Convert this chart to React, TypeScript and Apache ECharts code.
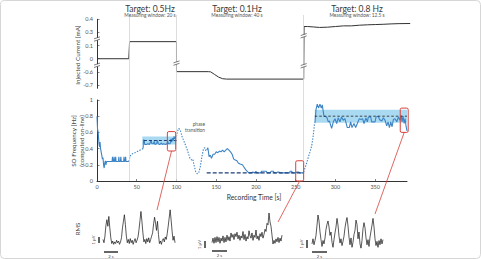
import React, { useEffect, useRef } from "react";
import * as echarts from "echarts";

const FONT = "Lato, 'Open Sans', sans-serif";

// Stimulation current (mA) over recording time (s)
const CURRENT_T = [0, 40, 41, 100, 100, 140, 143, 148, 153, 158, 163, 260, 260.5, 265, 272, 280, 290, 300, 310, 320, 330, 340, 350, 360, 370, 380, 394];
const CURRENT_MA = [0, 0, 0.16, 0.16, -0.59, -0.59, -0.6, -0.62, -0.64, -0.652, -0.655, -0.655, 0.345, 0.345, 0.342, 0.338, 0.34, 0.345, 0.35, 0.35, 0.355, 0.358, 0.36, 0.362, 0.365, 0.367, 0.368];
// Tick values of the broken current axis, bottom to top; each step gets the same height
const CURRENT_TICKS = [-0.7, -0.6, 0, 0.1, 0.3, 0.4];
// Cuts drawn across the axis and the current trace: [time s, current mA]
const CURRENT_BREAKS = [[0, 0.2], [0, -0.3], [100, -0.2], [260, -0.32], [260, 0.25]];

// On-line SO frequency estimate (Hz): [time s, Hz]
const SO_BASELINE = [[0, 0.8], [0.7, 0.64], [1.5, 0.6], [2.5, 0.46], [3.2, 0.42], [3.8, 0.48], [4.5, 0.4], [5.2, 0.36], [6, 0.32], [6.8, 0.27], [7.5, 0.29], [8.3, 0.2], [9, 0.16], [9.8, 0.22], [10.5, 0.25], [11.2, 0.2], [12, 0.24], [19, 0.24], [19.5, 0.3], [20, 0.24], [21, 0.24], [21.5, 0.3], [22, 0.24], [23, 0.24], [23.5, 0.3], [24, 0.24], [27, 0.24], [27.5, 0.3], [28, 0.24], [29.5, 0.24], [30, 0.3], [30.5, 0.24], [33.5, 0.24], [34, 0.3], [34.5, 0.24], [35.5, 0.24], [36, 0.3], [36.5, 0.24], [40, 0.24]];
const SO_TO_05 = [[40, 0.24], [41.5, 0.3], [43, 0.33], [46, 0.34], [50, 0.36], [54, 0.38], [58, 0.4]];
const SO_AT_05 = [[58, 0.4], [58.5, 0.51], [59.5, 0.5], [60, 0.45], [62, 0.45], [64, 0.46], [66, 0.45], [68, 0.5], [69, 0.46], [71, 0.46], [72, 0.49], [73, 0.45], [75, 0.46], [76, 0.5], [77, 0.46], [79, 0.45], [81, 0.47], [82, 0.45], [84, 0.46], [86, 0.45], [88, 0.46], [89, 0.49], [90, 0.46], [92, 0.46], [93, 0.52], [94, 0.48], [95, 0.53], [96, 0.5], [97, 0.55], [98, 0.52], [99, 0.54], [100, 0.55]];
const SO_TO_01 = [[100, 0.55], [101.5, 0.62], [103, 0.65], [105, 0.62], [107, 0.55], [109, 0.5], [111, 0.45], [113, 0.4], [115, 0.34], [117, 0.28], [119, 0.26], [120.5, 0.27], [122, 0.2], [124, 0.12], [126, 0.09], [128, 0.1], [130, 0.18], [132, 0.3], [134, 0.4], [135.5, 0.41], [137, 0.37], [138.5, 0.39]];
const SO_AT_01 = [[138.5, 0.39], [139.5, 0.41], [141, 0.3], [142.5, 0.32], [144, 0.28], [146, 0.33], [148, 0.33], [150, 0.36], [152, 0.35], [154, 0.37], [156, 0.36], [158, 0.38], [160, 0.36], [162, 0.38], [164, 0.4], [166, 0.38], [168, 0.36], [170, 0.33], [172, 0.27], [174, 0.26], [176, 0.25], [178, 0.22], [180, 0.21], [183, 0.2], [185, 0.17], [187, 0.14], [189, 0.12], [191, 0.1], [194, 0.1], [196, 0.11], [198, 0.1], [200, 0.12], [201, 0.1], [206, 0.1], [207, 0.12], [213, 0.12], [214, 0.1], [218, 0.1], [219, 0.12], [222, 0.12], [223, 0.1], [226, 0.1], [227, 0.11], [229, 0.11], [230, 0.1], [242, 0.1], [243, 0.12], [245, 0.12], [246, 0.1], [250, 0.1], [251, 0.11], [254, 0.11], [255, 0.1], [260, 0.1]];
const SO_TO_08 = [[260, 0.11], [262, 0.17], [264, 0.23], [266, 0.3], [268, 0.36], [270, 0.43], [271.5, 0.52], [272.5, 0.6], [273.5, 0.7], [274.2, 0.72]];
const SO_AT_08 = [[274.2, 0.72], [275.5, 0.88], [277.1, 0.95], [278.8, 0.9], [280.5, 0.95], [282.2, 0.9], [283.4, 0.94], [285.5, 0.8], [289, 0.79], [291, 0.73], [292.4, 0.74], [295.2, 0.65], [297.3, 0.73], [299.4, 0.77], [301.5, 0.71], [303.5, 0.78], [305.6, 0.73], [307.7, 0.79], [309.8, 0.75], [311.9, 0.77], [314.9, 0.66], [317.4, 0.66], [319.1, 0.73], [320.8, 0.66], [323.3, 0.71], [325.4, 0.66], [327.9, 0.72], [330, 0.77], [332.1, 0.76], [334.2, 0.77], [335.9, 0.71], [338.4, 0.78], [340.1, 0.73], [341.4, 0.79], [344.3, 0.79], [345.6, 0.73], [349.8, 0.73], [351, 0.79], [354, 0.8], [355.3, 0.76], [358.2, 0.74], [360.3, 0.78], [362.4, 0.75], [364.5, 0.68], [366.2, 0.73], [367.9, 0.66], [369.5, 0.73], [371.2, 0.67], [372.9, 0.76], [375, 0.77], [377.1, 0.73], [379.2, 0.79], [381.3, 0.75], [382.6, 0.81], [383.8, 0.73], [385.1, 0.8], [386.4, 0.71], [387.6, 0.77], [388.9, 0.67], [390, 0.62]];

// Target frequencies (Hz), the span each is drawn over (s) and its tolerance band (Hz)
const TARGET_HZ = [0.5, 0.1, 0.8];
const TARGET_SPAN = [[59, 100], [138, 260], [274, 390]];
const TARGET_BAND = [[0.45, 0.55], null, [0.72, 0.88]];
const TARGET_TITLE = ["Target: 0.5Hz", "Target: 0.1Hz", "Target: 0.8 Hz"];
const TARGET_WINDOW = ["Measuring window: 20 s", "Measuring window: 40 s", "Measuring window: 12.5 s"];

// Phase boundaries (s)
const PHASE_EDGES = [40, 100, 260];
const TIME_TICKS = [0, 50, 100, 150, 200, 250, 300, 350];

// Stretches whose RMS is shown below: [t0, t1, Hz low, Hz high]
const RMS_WINDOWS = [[88.5, 99, 0.37, 0.61], [250, 260, 0, 0.25], [381.5, 391.5, 0.6, 0.9]];

// RMS traces (µV) of the three stretches
const RMS_05 = [0.8, 0.4, 1.2, 2.5, 3.2, 2.4, 3.6, 2.2, 1.0, 0.3, 0.6, 0.2, 0.5, 0.3, 0.7, 0.4, 0.6, 0.2, 0.5, 1.0, 2.2, 3.0, 3.8, 2.6, 1.2, 0.4, 0.8, 0.3, 0.9, 0.4, 0.7, 0.2, 0.6, 0.9, 0.4, 0.7, 1.1, 2.0, 3.1, 4.2, 3.0, 1.6, 0.5, 0.8, 0.3, 0.9, 0.5, 1.0, 0.4, 0.8, 1.2, 1.6, 2.7, 3.5, 2.8, 1.9, 3.0, 1.4, 0.3, 0.6, 0.2, 0.7, 0.9, 0.5, 1.1, 0.8, 1.5, 2.4, 3.4, 4.4, 3.2, 1.8, 0.7, 1.2, 0.4];
const RMS_01 = [0.6, 1.2, 0.5, 1.3, 0.6, 1.4, 0.7, 1.3, 0.5, 1.2, 0.8, 1.5, 0.6, 1.3, 0.7, 1.6, 0.9, 1.4, 0.8, 1.9, 1.3, 1.7, 1.0, 1.8, 1.4, 2.0, 1.1, 1.6, 0.9, 1.5, 1.2, 2.1, 1.0, 1.7, 0.8, 1.4, 1.1, 2.2, 1.5, 1.2, 1.9, 0.9, 1.6, 1.3, 2.3, 1.1, 1.5, 0.9, 1.8, 1.4, 2.0, 1.2, 1.7, 2.4, 2.1, 3.2, 3.0, 4.6, 3.4, 2.8, 1.6, 0.4, 0.9, 0.5, 1.1, 0.7, 1.3, 0.6, 1.2, 0.8, 1.6];
const RMS_08 = [0.6, 1.2, 0.5, 1.0, 1.6, 2.8, 4.0, 3.3, 2.0, 1.1, 0.3, 1.0, 0.6, 1.3, 2.3, 2.9, 3.3, 2.6, 1.6, 2.0, 0.8, 0.2, 1.1, 1.9, 2.6, 3.6, 2.8, 1.5, 0.7, 1.2, 0.4, 0.9, 1.5, 2.5, 3.2, 3.7, 2.7, 1.4, 0.5, 1.3, 0.2, 0.8, 1.7, 2.2, 3.4, 2.9, 1.2, 2.0, 0.6, 0.1, 1.0, 2.4, 3.1, 2.5, 1.3, 0.5, 1.1, 0.3, 1.4, 2.1, 2.8, 3.6, 2.6, 1.2, 0.4, 0.9, 0.2, 1.0, 0.5, 1.2, 0.6, 1.1];

// Maps a current value onto the broken axis: equal height between consecutive ticks
function toBroken(v: number): number {
  const k = CURRENT_TICKS;
  let i = 0;
  while (i < k.length - 2 && v > k[i + 1]) i++;
  return i + (v - k[i]) / (k[i + 1] - k[i]);
}

const BLUE = "#3c84c6";
const RED = "#d8403a";
const AXIS_TEXT = { color: "#555", fontSize: 5.5, fontFamily: FONT };

function breakMark(_p: any, api: any) {
  const c = api.coord([api.value(0), api.value(1)]);
  return {
    type: "group",
    children: [
      { type: "rect", shape: { x: c[0] - 3.5, y: c[1] - 1.2, width: 7, height: 2.4 }, style: { fill: "#fff" } },
      { type: "line", shape: { x1: c[0] - 3, y1: c[1] - 0.2, x2: c[0] + 3, y2: c[1] - 2.2 }, style: { stroke: "#444", lineWidth: 0.7 } },
      { type: "line", shape: { x1: c[0] - 3, y1: c[1] + 2.2, x2: c[0] + 3, y2: c[1] + 0.2 }, style: { stroke: "#444", lineWidth: 0.7 } },
    ],
  };
}

function windowBox(_p: any, api: any) {
  const a = api.coord([api.value(0), api.value(3)]);
  const b = api.coord([api.value(1), api.value(2)]);
  return {
    type: "rect",
    shape: { x: a[0], y: a[1], width: b[0] - a[0], height: b[1] - a[1], r: 1.5 },
    style: { fill: "none", stroke: RED, lineWidth: 1 },
  };
}

function soLine(data: number[][], dotted: boolean) {
  return {
    type: "line", xAxisIndex: 1, yAxisIndex: 1, data, symbol: "none", z: 4,
    lineStyle: { color: BLUE, width: 1.1, type: dotted ? [1.4, 1.4] : "solid" },
  };
}

function rmsLine(values: number[], idx: number) {
  return {
    type: "line", xAxisIndex: idx, yAxisIndex: idx, symbol: "none",
    data: values.map((v, i) => [i, v]),
    lineStyle: { color: "#111", width: 0.7 },
  };
}

function hiddenAxis(gridIndex: number, min: number, max: number) {
  return { type: "value", gridIndex, min, max, show: false };
}

const TARGET_STYLE = [
  { color: "#1d3f78", width: 1, type: [3, 2] },
  { color: "#1d3f78", width: 1.4, type: [4, 2] },
  { color: "#222", width: 0.8, type: [2.5, 2] },
];

const option: any = {
  animation: false,
  backgroundColor: "#fff",
  grid: [
    { left: 97, top: 19.3, width: 313.2, height: 69 },
    { left: 97, top: 100, width: 310, height: 81 },
    { left: 97, top: 15, width: 310, height: 166 },
    { left: 103, top: 209, width: 72, height: 37 },
    { left: 212, top: 213, width: 70, height: 34 },
    { left: 312, top: 215, width: 71, height: 34 },
  ],
  xAxis: [
    hiddenAxis(0, 0, 394),
    {
      type: "value", gridIndex: 1, min: 0, max: 390,
      axisLine: { lineStyle: { color: "#333", width: 1 } },
      axisTick: { inside: true, length: 2, customValues: TIME_TICKS, lineStyle: { color: "#333", width: 0.6 } },
      axisLabel: { ...AXIS_TEXT, margin: 3, customValues: TIME_TICKS },
      splitLine: { show: false },
    },
    hiddenAxis(2, 0, 390),
    hiddenAxis(3, 0, RMS_05.length - 1),
    hiddenAxis(4, 0, RMS_01.length - 1),
    hiddenAxis(5, 0, RMS_08.length - 1),
  ],
  yAxis: [
    {
      type: "value", gridIndex: 0, min: -0.25, max: 5,
      axisLine: { show: true, lineStyle: { color: "#333", width: 1 } },
      axisTick: { show: true, inside: true, length: 2.5, customValues: [0, 1, 2, 3, 4, 5], lineStyle: { color: "#333", width: 0.6 } },
      axisLabel: { ...AXIS_TEXT, margin: 4, customValues: [0, 1, 2, 3, 4, 5], formatter: (v: number) => String(CURRENT_TICKS[Math.round(v)]) },
      splitLine: { show: false },
    },
    {
      type: "value", gridIndex: 1, min: 0, max: 1, interval: 0.2,
      axisLine: { show: true, lineStyle: { color: "#333", width: 1 } },
      axisTick: { show: true, inside: true, length: 2.5, lineStyle: { color: "#333", width: 0.6 } },
      axisLabel: { ...AXIS_TEXT, margin: 4, formatter: (v: number) => String(Math.round(v * 10) / 10) },
      splitLine: { show: false },
    },
    hiddenAxis(2, 0, 1),
    hiddenAxis(3, 0, 4.5),
    hiddenAxis(4, 0, 4.6),
    hiddenAxis(5, 0, 4.0),
  ],
  series: [
    {
      type: "line", xAxisIndex: 2, yAxisIndex: 2, data: [[0, 0]], symbol: "none", z: 0,
      lineStyle: { opacity: 0 },
      markLine: {
        silent: true, symbol: "none", label: { show: false },
        lineStyle: { color: "#d4d4d4", width: 0.8, type: "solid" },
        data: PHASE_EDGES.map((t) => ({ xAxis: t })),
      },
    },
    {
      type: "line", xAxisIndex: 0, yAxisIndex: 0, symbol: "none", z: 3,
      data: CURRENT_T.map((t, i) => [t, toBroken(CURRENT_MA[i])]),
      lineStyle: { color: "#333", width: 1 },
    },
    {
      type: "custom", xAxisIndex: 0, yAxisIndex: 0, clip: false, z: 5,
      renderItem: breakMark,
      data: CURRENT_BREAKS.map((b) => [b[0], toBroken(b[1])]),
    },
    {
      type: "line", xAxisIndex: 1, yAxisIndex: 1, data: [], symbol: "none", z: 1,
      markArea: {
        silent: true,
        itemStyle: { color: "rgba(140, 206, 236, 0.75)" },
        data: TARGET_BAND.map((b, i) => (b ? [{ xAxis: TARGET_SPAN[i][0] - (i === 0 ? 2 : 0), yAxis: b[0] }, { xAxis: TARGET_SPAN[i][1], yAxis: b[1] }] : null)).filter(Boolean),
      },
    },
    soLine(SO_BASELINE, false),
    soLine(SO_TO_05, true),
    soLine(SO_AT_05, false),
    soLine(SO_TO_01, true),
    soLine(SO_AT_01, false),
    soLine(SO_TO_08, true),
    soLine(SO_AT_08, false),
    ...TARGET_HZ.map((hz, i) => ({
      type: "line", xAxisIndex: 1, yAxisIndex: 1, symbol: "none", z: 5,
      data: [[TARGET_SPAN[i][0], hz], [TARGET_SPAN[i][1], hz]],
      lineStyle: TARGET_STYLE[i],
    })),
    {
      type: "custom", xAxisIndex: 1, yAxisIndex: 1, clip: false, z: 6,
      renderItem: windowBox,
      data: RMS_WINDOWS,
    },
    rmsLine(RMS_05, 3),
    rmsLine(RMS_01, 4),
    rmsLine(RMS_08, 5),
  ],
};

function text(x: number, y: number, s: string, size: number, extra: any = {}) {
  return {
    type: "text", x, y, rotation: extra.rotation || 0, z: 10,
    style: { text: s, fontSize: size, fontFamily: FONT, fill: extra.fill || "#333", align: extra.align || "center", verticalAlign: "middle" },
  };
}

function bar(x1: number, y1: number, x2: number, y2: number) {
  return { type: "line", z: 10, shape: { x1, y1, x2, y2 }, style: { stroke: "#111", lineWidth: 1.3 } };
}

const UP = Math.PI / 2;
const TITLE_X = [150, 237, 357];
const SCALE_V = [[99, 237, 243], [205, 241, 248], [307, 240, 248]];
const SCALE_H = [[104, 118, 252], [212, 227, 251], [312, 327, 252]];
const LINK_END = [[157, 210], [278, 222], [375, 214]];

export default function App() {
  const ref = useRef<HTMLDivElement>(null);
  useEffect(() => {
    const chart = echarts.init(ref.current!, null, { renderer: "svg" });
    chart.setOption(option);
    const links = RMS_WINDOWS.map((w, i) => {
      const s = chart.convertToPixel({ gridIndex: 1 } as any, [(w[0] + w[1]) / 2, w[2]]) as number[];
      return { type: "line", z: 9, shape: { x1: s[0], y1: s[1], x2: LINK_END[i][0], y2: LINK_END[i][1] }, style: { stroke: RED, lineWidth: 0.8 } };
    });
    const elements: any[] = [
      { type: "rect", z: 0, shape: { x: 0.5, y: 0.5, width: 480, height: 258, r: 4 }, style: { fill: "none", stroke: "#d6d6d6", lineWidth: 1 } },
      ...TARGET_TITLE.map((s, i) => text(TITLE_X[i], 8.5, s, 8.5, { fill: "#3a3a3a" })),
      ...TARGET_WINDOW.map((s, i) => text(TITLE_X[i], 15, s, 4.8, { fill: "#555" })),
      text(77, 55, "Injected Current [mA]", 6.3, { rotation: UP, fill: "#444" }),
      text(73, 141, "SO Frequency [Hz]", 6.3, { rotation: UP, fill: "#444" }),
      text(81, 141, "(computed on-line)", 6.3, { rotation: UP, fill: "#444" }),
      text(254, 197, "Recording Time [s]", 6.8, { fill: "#333" }),
      text(205, 124, "phase", 4.8, { align: "right", fill: "#555" }),
      text(205, 130, "transition", 4.8, { align: "right", fill: "#555" }),
      text(77, 229, "RMS", 6, { rotation: UP, fill: "#444" }),
      ...SCALE_V.map((b) => bar(b[0], b[1], b[0], b[2])),
      ...SCALE_V.map((b) => text(b[0] - 6, (b[1] + b[2]) / 2, "1 µV", 4.2, { rotation: UP, fill: "#444" })),
      ...SCALE_H.map((b) => bar(b[0], b[2], b[1], b[2])),
      ...SCALE_H.map((b) => text((b[0] + b[1]) / 2, b[2] + 4.5, "2 s", 4.2, { fill: "#444" })),
      ...links,
    ];
    chart.setOption({ graphic: { elements } });
    return () => chart.dispose();
  }, []);
  return <div ref={ref} style={{ position: "absolute", left: 0, top: 0, width: 481, height: 259 }} />;
}
